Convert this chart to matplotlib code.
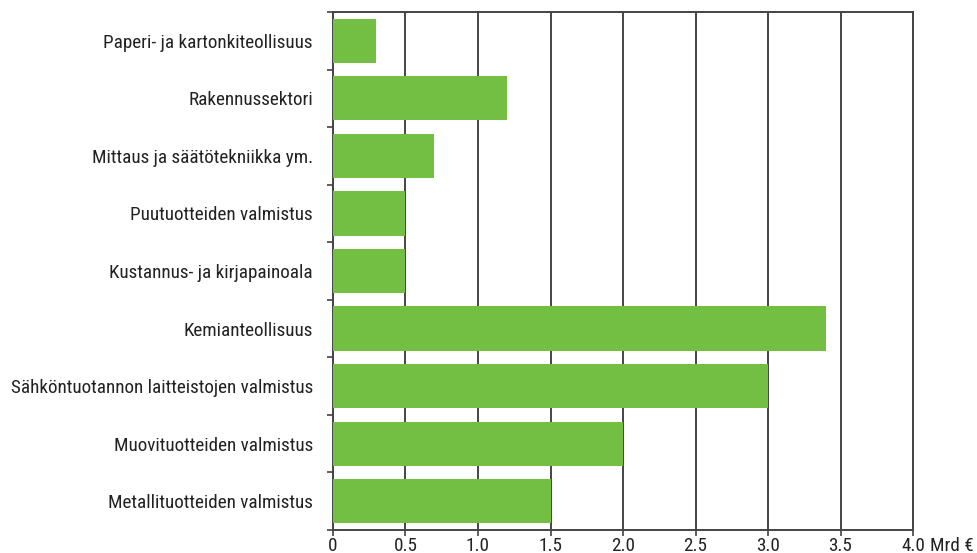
import matplotlib
matplotlib.use("Agg")
import matplotlib.pyplot as plt
from matplotlib import font_manager
import numpy as np

categories = [
    "Paperi- ja kartonkiteollisuus",
    "Rakennussektori",
    "Mittaus ja säätötekniikka ym.",
    "Puutuotteiden valmistus",
    "Kustannus- ja kirjapainoala",
    "Kemianteollisuus",
    "Sähköntuotannon laitteistojen valmistus",
    "Muovituotteiden valmistus",
    "Metallituotteiden valmistus",
]
values = [0.3, 1.2, 0.7, 0.5, 0.5, 3.4, 3.0, 2.0, 1.5]
xticks = [0, 0.5, 1.0, 1.5, 2.0, 2.5, 3.0, 3.5, 4.0]
xticklabels = ["0", "0.5", "1.0", "1.5", "2.0", "2.5", "3.0", "3.5", "4.0"]
unit_label = "Mrd €"

names = {f.name for f in font_manager.fontManager.ttflist}
prefs = ["Roboto Condensed", "Liberation Sans Narrow", "Archivo Narrow",
         "Asap Condensed", "Barlow Condensed"]
main = next((p for p in prefs if p in names), "DejaVu Sans")
plt.rcParams['font.family'] = [main, "DejaVu Sans"]

fig = plt.figure(figsize=(9.78, 5.53), dpi=100)
ax = fig.add_axes([333/978, 23/553, 580/978, 518/553])

n = len(categories)
y = np.arange(n)
ax.barh(y, values, height=0.77, color="#72BF44", zorder=3)
ax.set_ylim(n - 0.5, -0.5)
ax.set_xlim(0, 4.0)

fs = 13.8
ax.set_yticks(y)
ax.set_yticklabels(categories, fontsize=fs, color="#222222")
ax.tick_params(axis="y", which="major", length=0, pad=14.5)
ax.set_yticks(np.arange(n + 1) - 0.5, minor=True)
ax.tick_params(axis="y", which="minor", length=4, width=1.2, color="#444444", direction="out")

ax.set_xticks(xticks)
ax.set_xticklabels(xticklabels, fontsize=fs, color="#222222")
ax.tick_params(axis="x", length=4, width=1.2, color="#444444", direction="out", pad=1)

ax.grid(axis="x", color="#444444", linewidth=1.4, zorder=0)
for s in ax.spines.values():
    s.set_color("#444444")
    s.set_linewidth(1.4)

ax.annotate(unit_label, xy=(1.0, 0.0), xycoords="axes fraction", xytext=(12, -5),
            textcoords="offset points", ha="left", va="top", fontsize=fs, color="#222222")

fig.savefig("out.png", dpi=100)
